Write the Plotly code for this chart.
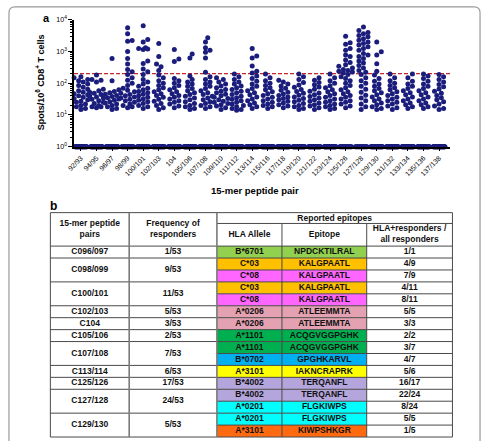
import math
import numpy as np
import plotly.graph_objects as go

# ---------------- Panel a data ----------------
peptide_pairs = ["92/93", "94/95", "96/97", "98/99", "100/101", "102/103", "104",
                 "105/106", "107/108", "109/110", "111/112", "113/114", "115/116",
                 "117/118", "119/120", "121/122", "123/124", "125/126", "127/128",
                 "129/130", "131/132", "133/134", "135/136", "137/138"]

v_92_93 = [160, 150, 130, 120, 110, 95, 85, 75, 65, 58, 52, 47, 43, 40, 36, 33, 30, 27, 25, 22, 20, 18, 16, 15]
v_94_95 = [180, 130, 125, 110, 65, 58, 52, 48, 44, 40, 37, 34, 31, 28, 25, 23, 20, 18, 18, 17]
v_96_97 = [600, 120, 62, 55, 50, 45, 41, 38, 35, 32, 29, 26, 24, 22, 20, 18, 16, 15]
v_98_99 = [5600, 3600, 2200, 2100, 1000, 600, 400, 270, 230, 190, 150, 125, 100, 85, 70, 60, 54, 48,
           44, 40, 37, 34, 31, 28, 25, 22, 20, 18, 17]
v_100_101 = [6500, 2400, 2000, 1300, 1250, 1200, 1150, 500, 420, 280, 230, 190, 130, 110, 95, 80, 70,
             62, 55, 50, 45, 40, 36, 32, 29, 26, 23, 20, 18, 16]
v_102_103 = [1800, 700, 400, 330, 250, 180, 150, 120, 100, 85, 72, 62, 54, 47, 41, 36, 31, 27, 23, 20, 17, 15]
v_104 = [1150, 580, 480, 140, 120, 100, 85, 72, 62, 54, 47, 41, 36, 32, 28, 25, 22, 19, 17]
v_105_106 = [830, 620, 170, 130, 110, 95, 80, 68, 58, 50, 44, 39, 34, 30, 26, 23, 20, 18, 16, 15]
v_107_108 = [2700, 2000, 1300, 1100, 950, 620, 220, 160, 130, 110, 95, 80, 68, 58, 50, 44, 39, 34,
             30, 26, 23, 20, 18, 16]
v_109_110 = [150, 130, 110, 95, 82, 72, 63, 56, 50, 45, 40, 36, 33, 30, 27, 25, 23, 21, 19, 17, 15]
v_111_112 = [195, 160, 130, 110, 95, 82, 72, 63, 56, 50, 44, 39, 35, 31, 28, 25, 22, 20, 18, 16, 15, 14]
v_113_114 = [1250, 720, 620, 350, 240, 210, 170, 140, 115, 95, 80, 68, 58, 50, 43, 37, 32, 28, 24, 21, 18, 16]
v_115_116 = [195, 150, 120, 100, 85, 72, 62, 54, 47, 41, 36, 32, 28, 25, 22, 20, 18, 16]
v_117_118 = [125, 110, 95, 82, 70, 60, 52, 46, 41, 37, 33, 30, 27, 24, 21, 19, 17]
v_119_120 = [195, 160, 130, 105, 88, 75, 64, 55, 48, 42, 37, 33, 29, 26, 23, 20, 18, 16, 15]
v_121_122 = [150, 125, 105, 90, 76, 65, 56, 49, 43, 38, 34, 30, 27, 24, 21, 19, 17, 15]
v_123_124 = [195, 150, 120, 100, 84, 72, 62, 54, 47, 41, 36, 32, 28, 25, 22, 20, 18, 16, 15]
v_125_126 = [3000, 1900, 1700, 1250, 1100, 780, 700, 540, 450, 380, 340, 300, 270, 250, 240, 225, 210,
             190, 160, 140, 120, 100, 85, 72, 62, 54, 47, 41, 36, 32, 28, 25, 22, 19, 17]
v_127_128 = [5900, 4600, 4000, 3600, 3200, 2900, 2500, 2250, 2000, 1780, 1600, 1400, 1250, 1100, 870,
             780, 690, 600, 500, 430, 360, 300, 250, 220, 190, 150, 120, 100, 80, 65, 52, 42, 34, 28, 22, 18, 15]
v_129_130 = [2000, 990, 780, 410, 240, 180, 140, 115, 95, 80, 68, 58, 50, 43, 37, 32, 28, 24, 21, 18, 16, 15]
v_131_132 = [195, 150, 120, 100, 85, 72, 62, 54, 47, 41, 36, 32, 28, 25, 22, 19, 17, 15]
v_133_134 = [195, 150, 115, 95, 80, 68, 58, 50, 43, 37, 32, 28, 24, 21, 18, 16]
v_135_136 = [195, 170, 140, 115, 95, 80, 68, 58, 50, 43, 37, 32, 28, 24, 21, 18, 16]
v_137_138 = [190, 160, 130, 110, 92, 78, 66, 56, 48, 41, 35, 30, 26, 22, 19, 16, 15]

columns = [v_92_93, v_94_95, v_96_97, v_98_99, v_100_101, v_102_103, v_104, v_105_106,
           v_107_108, v_109_110, v_111_112, v_113_114, v_115_116, v_117_118, v_119_120,
           v_121_122, v_123_124, v_125_126, v_127_128, v_129_130, v_131_132, v_133_134,
           v_135_136, v_137_138]

total_donors = 53
baseline_value = 1
threshold = 200

y_tick_values = [1, 10, 100, 1000, 10000]
y_tick_labels = ["10<sup>0</sup>", "10<sup>1</sup>", "10<sup>2</sup>", "10<sup>3</sup>", "10<sup>4</sup>"]

# ---------------- Panel b data ----------------
table_pairs = ["C096/097", "C098/099", "C100/101", "C102/103", "C104", "C105/106",
               "C107/108", "C113/114", "C125/126", "C127/128", "C129/130"]
table_freq = ["1/53", "9/53", "11/53", "5/53", "3/53", "2/53", "7/53", "6/53", "17/53", "24/53", "5/53"]
table_group_rows = [1, 2, 2, 1, 1, 1, 2, 1, 1, 2, 2]
hla_alleles = ["B*6701", "C*03", "C*08", "C*03", "C*08", "A*0206", "A*0206", "A*1101",
               "A*1101", "B*0702", "A*3101", "B*4002", "B*4002", "A*0201", "A*0201", "A*3101"]
epitopes = ["NPDCKTILRAL", "KALGPAATL", "KALGPAATL", "KALGPAATL", "KALGPAATL", "ATLEEMMTA",
            "ATLEEMMTA", "ACQGVGGPGHK", "ACQGVGGPGHK", "GPGHKARVL", "IAKNCRAPRK", "TERQANFL",
            "TERQANFL", "FLGKIWPS", "FLGKIWPS", "KIWPSHKGR"]
hla_ratio = ["1/1", "4/9", "7/9", "4/11", "8/11", "5/5", "3/3", "2/2", "3/7", "4/7", "5/6",
             "16/17", "22/24", "8/24", "5/5", "1/5"]

# styles
row_colors = ["#92d050", "#ffc000", "#ff66ff", "#ffc000", "#ff66ff", "#e4a1b1", "#e4a1b1",
              "#00b050", "#00b050", "#00b0f0", "#ffff00", "#b4a5dc", "#b4a5dc", "#00ffff",
              "#00ffff", "#ff6a10"]

W, H = 483, 441
FONT = "Liberation Sans, Arial, sans-serif"
NAVY = "#1b1d7c"

# ---------------- geometry for panel a ----------------
ax_left, ax_right = 68, 450
ax_top, ax_bot = 16, 145
first_cat_px, cat_step_px = 75, 15.8
x_lo = -(first_cat_px - ax_left) / cat_step_px
x_hi = x_lo + (ax_right - ax_left) / cat_step_px
px_per_dec = (ax_bot - ax_top) / 4.0


def swarm(vals, d=4.6):
    placed = []
    offs = []
    for v in sorted(vals):
        y = math.log10(v) * px_per_dec
        choice = None
        best_md, best_ox = -1, 0
        for k in [0, 1, -1, 2, -2, 3, -3]:
            ox = k * d * 0.5
            md = min([math.hypot(ox - p[0], y - p[1]) for p in placed] + [99])
            if md >= d * 0.95:
                choice = ox
                break
            if md > best_md:
                best_md, best_ox = md, ox
        if choice is None:
            choice = best_ox
        placed.append((choice, y))
        offs.append((v, choice / cat_step_px))
    return offs


xs, ys = [], []
for ci, vals in enumerate(columns):
    for v, off in swarm(vals):
        xs.append(ci + off)
        ys.append(v)
    n_base = total_donors - len(vals)
    for off in np.linspace(-0.38, 0.38, n_base):
        xs.append(ci + off)
        ys.append(baseline_value)

fig = go.Figure()
fig.add_trace(go.Scatter(x=[x_lo, x_hi], y=[threshold, threshold], mode="lines",
                         line=dict(color="#c3262c", width=1.3, dash="4px,2px"),
                         showlegend=False, hoverinfo="skip"))
fig.add_trace(go.Scatter(x=xs, y=ys, mode="markers", cliponaxis=False,
                         marker=dict(size=5, color=NAVY, line=dict(width=0)),
                         showlegend=False))

# ---------------- table (panel b) ----------------
col_edges = [44, 124, 213, 279, 365, 452]
t_top, t_mid, t_head = 212, 223, 246
t_bot = 440
row_h = (t_bot - t_head) / len(hla_alleles)
row_y = [t_head + i * row_h for i in range(len(hla_alleles) + 1)]
cx = [(col_edges[i] + col_edges[i + 1]) / 2 for i in range(5)]

shapes = []
# fills (below the text trace)
for i, c in enumerate(row_colors):
    shapes.append(dict(type="rect", xref="x2", yref="y2", x0=col_edges[2], x1=col_edges[4],
                       y0=row_y[i], y1=row_y[i + 1], fillcolor=c, line=dict(width=0), layer="below"))

LC = "#4a4a4a"


def hline(y, x0, x1, w=1, c=LC):
    shapes.append(dict(type="line", xref="x2", yref="y2", x0=x0, x1=x1, y0=y, y1=y,
                       line=dict(color=c, width=w), layer="above"))


def vline(x, y0, y1, w=1, c=LC):
    shapes.append(dict(type="line", xref="x2", yref="y2", x0=x, x1=x, y0=y0, y1=y1,
                       line=dict(color=c, width=w), layer="above"))


hline(t_top, col_edges[0], col_edges[5])
hline(t_mid, col_edges[2], col_edges[5])
hline(t_head, col_edges[0], col_edges[5])
group_bounds = set(np.cumsum(table_group_rows).tolist())
for i in range(1, len(hla_alleles)):
    if i in group_bounds:
        hline(row_y[i], col_edges[0], col_edges[5])
    else:
        hline(row_y[i], col_edges[2], col_edges[5])
hline(t_bot, col_edges[0], col_edges[5])
vline(col_edges[0], t_top, t_bot)
vline(col_edges[1], t_top, t_bot, 1.6, "#7a7a7a")
vline(col_edges[2], t_top, t_bot, 1.6, "#7a7a7a")
vline(col_edges[3], t_mid, t_bot)
vline(col_edges[4], t_mid, t_bot)
vline(col_edges[5], t_top, t_bot)

tx, ty, tt = [], [], []
# headers
hy = (t_top + t_head) / 2
tx += [cx[0], cx[1], (col_edges[2] + col_edges[5]) / 2, cx[2], cx[3], cx[4]]
ty += [hy, hy, (t_top + t_mid) / 2 + 0.5, (t_mid + t_head) / 2, (t_mid + t_head) / 2, (t_mid + t_head) / 2]
tt += ["15-mer peptide<br>pairs", "Frequency of<br>responders", "Reported epitopes",
       "HLA Allele", "Epitope", "HLA+responders /<br>all responders"]
# merged columns
start = 0
for p, f, n in zip(table_pairs, table_freq, table_group_rows):
    yc = (row_y[start] + row_y[start + n]) / 2
    tx += [cx[0], cx[1]]
    ty += [yc, yc]
    tt += [p, f]
    start += n
for i in range(len(hla_alleles)):
    yc = (row_y[i] + row_y[i + 1]) / 2
    tx += [cx[2], cx[3], cx[4]]
    ty += [yc, yc, yc]
    tt += [hla_alleles[i], epitopes[i], hla_ratio[i]]

fig.add_trace(go.Scatter(x=tx, y=ty, text=["<b>" + s + "</b>" for s in tt], mode="text",
                         textposition="middle center", xaxis="x2", yaxis="y2",
                         textfont=dict(family=FONT, size=8.5, color="#111111"),
                         showlegend=False, hoverinfo="skip", cliponaxis=False))


def px(x):
    return x / W


def py(y):
    return 1 - y / H


r = 6
bx0, bx1, by0, by1 = 2, 480, 3, 450
border = (f"M {px(bx0)},{py(by1)} L {px(bx0)},{py(by0 + r)} Q {px(bx0)},{py(by0)} {px(bx0 + r)},{py(by0)} "
          f"L {px(bx1 - r)},{py(by0)} Q {px(bx1)},{py(by0)} {px(bx1)},{py(by0 + r)} L {px(bx1)},{py(by1)}")
shapes.append(dict(type="path", xref="paper", yref="paper", path=border,
                   line=dict(color="#9a9a9a", width=1.2)))

annotations = [
    dict(text="<b>a</b>", x=px(40), y=py(14), xref="paper", yref="paper", showarrow=False,
         font=dict(family=FONT, size=11, color="black"), xanchor="center", yanchor="middle"),
    dict(text="<b>b</b>", x=px(47), y=py(205), xref="paper", yref="paper", showarrow=False,
         font=dict(family=FONT, size=12, color="black"), xanchor="center", yanchor="middle"),
    dict(text="<b>Spots/10<sup>6</sup> CD8<sup>+</sup> T cells</b>", x=px(33), y=py(80),
         xref="paper", yref="paper", showarrow=False, textangle=-90,
         font=dict(family=FONT, size=9, color="black"), xanchor="center", yanchor="middle"),
    dict(text="<b>15-mer peptide pair</b>", x=px(252), y=py(189), xref="paper", yref="paper",
         showarrow=False, font=dict(family=FONT, size=9.5, color="black"),
         xanchor="center", yanchor="middle"),
]

fig.update_layout(
    width=W, height=H, autosize=False,
    margin=dict(l=0, r=0, t=0, b=0),
    paper_bgcolor="white", plot_bgcolor="white",
    font=dict(family=FONT, color="black"),
    showlegend=False,
    shapes=shapes,
    annotations=annotations,
    xaxis=dict(domain=[px(ax_left), px(ax_right)], range=[x_lo, x_hi], anchor="y",
               tickmode="array", tickvals=list(range(len(peptide_pairs))), ticktext=peptide_pairs,
               tickangle=-45, ticks="outside", ticklen=3, tickwidth=1, tickcolor="black",
               showline=True, linecolor="black", linewidth=1.5, showgrid=False, zeroline=False,
               tickfont=dict(family=FONT, size=7, color="black")),
    yaxis=dict(domain=[py(ax_bot), py(ax_top)], type="log", range=[0, 4], anchor="x",
               tickmode="array", tickvals=y_tick_values, ticktext=y_tick_labels,
               ticks="outside", ticklen=4, tickwidth=1, tickcolor="black",
               minor=dict(ticks="outside", ticklen=2, tickwidth=1, tickcolor="black", dtick="D1"),
               showline=True, linecolor="black", linewidth=1.5, showgrid=False, zeroline=False,
               tickfont=dict(family=FONT, size=7, color="black")),
    xaxis2=dict(domain=[px(42), px(454)], range=[42, 454], anchor="y2", visible=False),
    yaxis2=dict(domain=[0, py(210)], range=[441, 210], anchor="x2", visible=False),
)

fig.write_html("out.html")
